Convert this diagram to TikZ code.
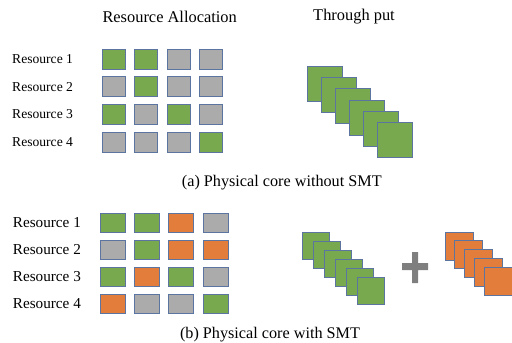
\documentclass[tikz,border=0pt]{standalone}
\usepackage{fontspec}
\setmainfont{Liberation Serif}
\definecolor{cellg}{HTML}{78A94F}
\definecolor{celly}{HTML}{ABABAB}
\definecolor{cello}{HTML}{E27D3B}
\definecolor{cellline}{HTML}{5B74A0}
\definecolor{plusgray}{HTML}{7F7F7F}
\begin{document}
\begin{tikzpicture}[x=1pt, y=-1pt,
  cell/.style={draw=cellline, line width=0.7pt, inner sep=0pt},
  lbl/.style={inner sep=0pt, anchor=west},
  head/.style={inner sep=0pt, font=\fontsize{16.4}{18}\selectfont}]
\useasboundingbox (0,0) rectangle (512,343);

% headings
\node[head] (hres) at (169.7,17) {Resource Allocation};
\node[head] (hput) at (354,17) {Through put};

% (a) without SMT
\foreach \r/\row in {1/{g,g,y,y}, 2/{y,g,y,y}, 3/{g,y,g,y}, 4/{y,y,y,g}}{
  \node[lbl, font=\fontsize{13.6}{15}\selectfont] (la\r) at (12,{59+27.7*(\r-1)}) {Resource \r};
  \foreach \k [count=\c] in \row
    \node[cell, fill=cell\k, minimum width=23pt, minimum height=20pt]
      (a\r\c) at ({113.5+32.5*(\c-1)},{59+27.7*(\r-1)}) {};
}
\foreach \i in {0,...,5}
  \node[cell, fill=cellg, minimum size=35pt] (ta\i) at ({325+14*\i},{83.5+11.3*\i}) {};
\node[head, font=\fontsize{16.2}{18}\selectfont] (capa) at (281.8,183) {(a) Physical core without SMT};

% (b) with SMT
\foreach \r/\row in {1/{g,g,o,y}, 2/{y,g,o,o}, 3/{g,o,g,y}, 4/{o,y,y,g}}{
  \node[lbl, font=\fontsize{15.2}{17}\selectfont] (lb\r) at (12.7,{222.5+27*(\r-1)}) {Resource \r};
  \foreach \k [count=\c] in \row
    \node[cell, fill=cell\k, minimum width=25pt, minimum height=19pt]
      (b\r\c) at ({112.5+34.3*(\c-1)},{222.5+27*(\r-1)}) {};
}
\foreach \i in {0,...,5}
  \node[cell, fill=cellg, minimum size=27pt] (tb\i) at ({316+11*\i},{246+9*\i}) {};
\fill[plusgray] (402,263) rectangle (428,270) (412,252) rectangle (418,283);
\foreach \i in {0,...,4}
  \node[cell, fill=cello, minimum size=28pt] (to\i) at ({459+9.75*\i},{246+8.75*\i}) {};
\node[head, font=\fontsize{16.2}{18}\selectfont] (capb) at (270,335) {(b) Physical core with SMT};
\end{tikzpicture}
\end{document}
